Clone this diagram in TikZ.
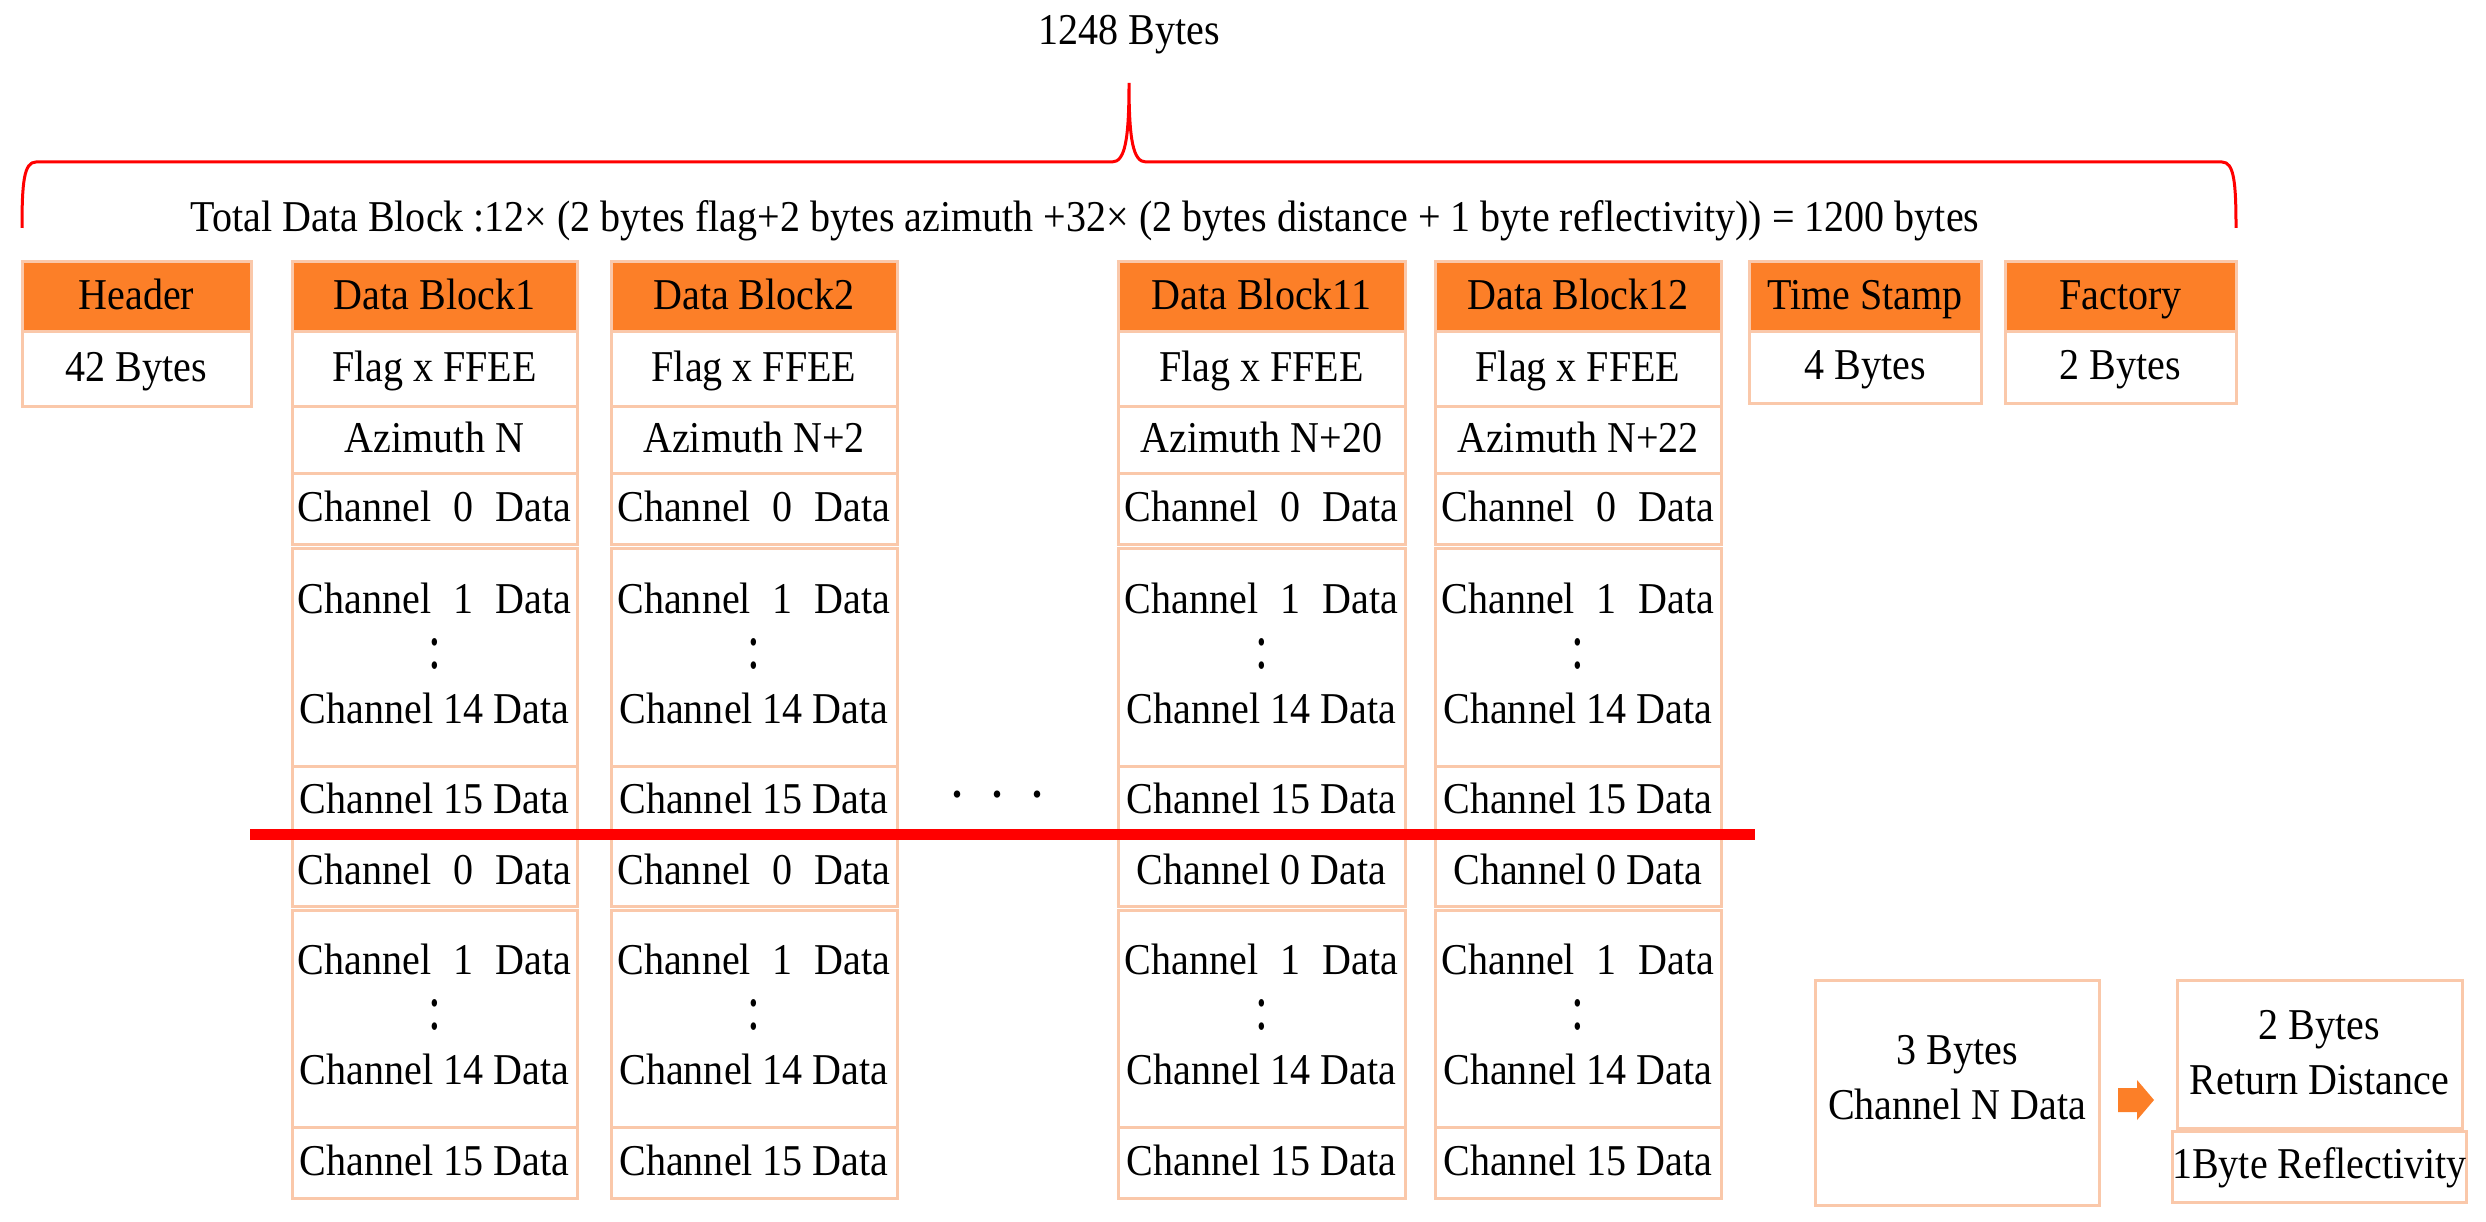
\documentclass[tikz,border=0pt]{standalone}
\usepackage{fontspec}
\setmainfont{Liberation Serif}[FakeStretch=0.91]
\definecolor{hdrorange}{RGB}{252,127,40}
\definecolor{peach}{RGB}{250,200,170}
\definecolor{bracered}{RGB}{255,0,0}
\tikzset{
  cellbase/.style={draw=peach, line width=3pt, inner sep=0pt, outer sep=0pt, align=center, font=\fontsize{44}{55}\selectfont},
  whitecell/.style={cellbase, fill=white},
  hdrcell/.style={cellbase, fill=hdrorange},
  lbl/.style={inner sep=0pt, outer sep=0pt, font=\fontsize{44}{55}\selectfont},
}
\newcommand\tallcolon{\scalebox{1.15}[1.45]{:}}
\newcommand\cellstrut{\rule[-9pt]{0pt}{43pt}}
% single-line cell
\newcommand\cellbox[7]{%
  \pgfmathsetmacro\cellW{#5-#3}%
  \pgfmathsetmacro\cellH{#6-#4}%
  \node[#1, minimum width=\cellW pt, minimum height=\cellH pt] (#2) at ({(#3+#5)/2},{(#4+#6)/2}) {\cellstrut #7\cellstrut};}
% multi-line cell
\newcommand\cellboxm[7]{%
  \pgfmathsetmacro\cellW{#5-#3}%
  \pgfmathsetmacro\cellH{#6-#4}%
  \node[#1, minimum width=\cellW pt, minimum height=\cellH pt] (#2) at ({(#3+#5)/2},{(#4+#6)/2}) {\strut #7\strut};}
\newcommand\datablock[6]{%
  \cellbox{hdrcell}{#1t}{#2}{262}{#3}{332}{#4}
  \cellbox{whitecell}{#1f}{#2}{332}{#3}{406}{Flag x FFEE}
  \cellbox{whitecell}{#1a}{#2}{406}{#3}{473}{#5}
  \cellbox{whitecell}{#1c0}{#2}{473}{#3}{544}{Channel\enspace 0\enspace Data}
  \cellboxm{whitecell}{#1m}{#2}{548}{#3}{766}{Channel\enspace 1\enspace Data\\\tallcolon\\Channel 14 Data}
  \cellbox{whitecell}{#1c15}{#2}{766}{#3}{836}{Channel 15 Data}
  \cellbox{whitecell}{#1d0}{#2}{838}{#3}{906}{#6}
  \cellboxm{whitecell}{#1n}{#2}{910}{#3}{1127}{Channel\enspace 1\enspace Data\\\tallcolon\\Channel 14 Data}
  \cellbox{whitecell}{#1d15}{#2}{1127}{#3}{1198}{Channel 15 Data}
}
\begin{document}
\begin{tikzpicture}[x=1pt, y=-1pt]
\useasboundingbox (0,0) rectangle (2486,1222);
% top labels
\node[lbl] (total) at (1129,35) {1248 Bytes};
\node[lbl, anchor=base] (sum) at (1085,232) {Total Data Block :12× (2 bytes flag+2 bytes azimuth +32× (2 bytes distance + 1 byte reflectivity)) = 1200 bytes};
% brace
\draw[bracered, line width=3pt] (22,228) .. controls (22,182) and (24,162) .. (36,162) -- (1112,162)
  .. controls (1125,162) and (1129,140) .. (1129,83)
  .. controls (1129,140) and (1133,162) .. (1146,162) -- (2222,162)
  .. controls (2234,162) and (2236,182) .. (2236,228);
% header
\cellbox{hdrcell}{hdr}{22}{262}{251}{332}{Header}
\cellbox{whitecell}{hdrb}{22}{332}{251}{406}{42 Bytes}
% blocks
\datablock{bA}{292}{577}{Data Block1}{Azimuth N}{Channel\enspace 0\enspace Data}
\datablock{bB}{611}{897}{Data Block2}{Azimuth N+2}{Channel\enspace 0\enspace Data}
\datablock{bK}{1118}{1405}{Data Block11}{Azimuth N+20}{Channel 0 Data}
\datablock{bL}{1435}{1721}{Data Block12}{Azimuth N+22}{Channel 0 Data}
% time stamp, factory
\cellbox{hdrcell}{ts}{1749}{262}{1981}{332}{Time Stamp}
\cellbox{whitecell}{tsb}{1749}{332}{1981}{403}{4 Bytes}
\cellbox{hdrcell}{fac}{2005}{262}{2236}{332}{Factory}
\cellbox{whitecell}{facb}{2005}{332}{2236}{403}{2 Bytes}
% ellipsis dots
\node[lbl, anchor=base] (dots) at (998,797) {\textbf{.}\hspace{30pt}\textbf{.}\hspace{30pt}\textbf{.}};
% red separator line
\coordinate (rlA) at (250,834);
\coordinate (rlB) at (1755,834);
\draw[bracered, line width=11pt] (rlA) -- (rlB);
% channel N detail
\cellbox{whitecell}{chn}{1815}{980}{2099}{1205}{}
\node[lbl, align=center, yshift=12pt] (chntxt) at (chn.center) {\strut 3 Bytes\\Channel N Data\strut};
\cellbox{whitecell}{rdist}{2177}{980}{2462}{1128}{2 Bytes\\Return Distance}
\cellbox{whitecell}{refl}{2177}{1131}{2462}{1202}{1Byte Reflectivity}
\fill[hdrorange] (2118,1088) -- (2137,1088) -- (2137,1080) -- (2154,1100) -- (2137,1120) -- (2137,1112) -- (2118,1112) -- cycle;
\end{tikzpicture}
\end{document}
